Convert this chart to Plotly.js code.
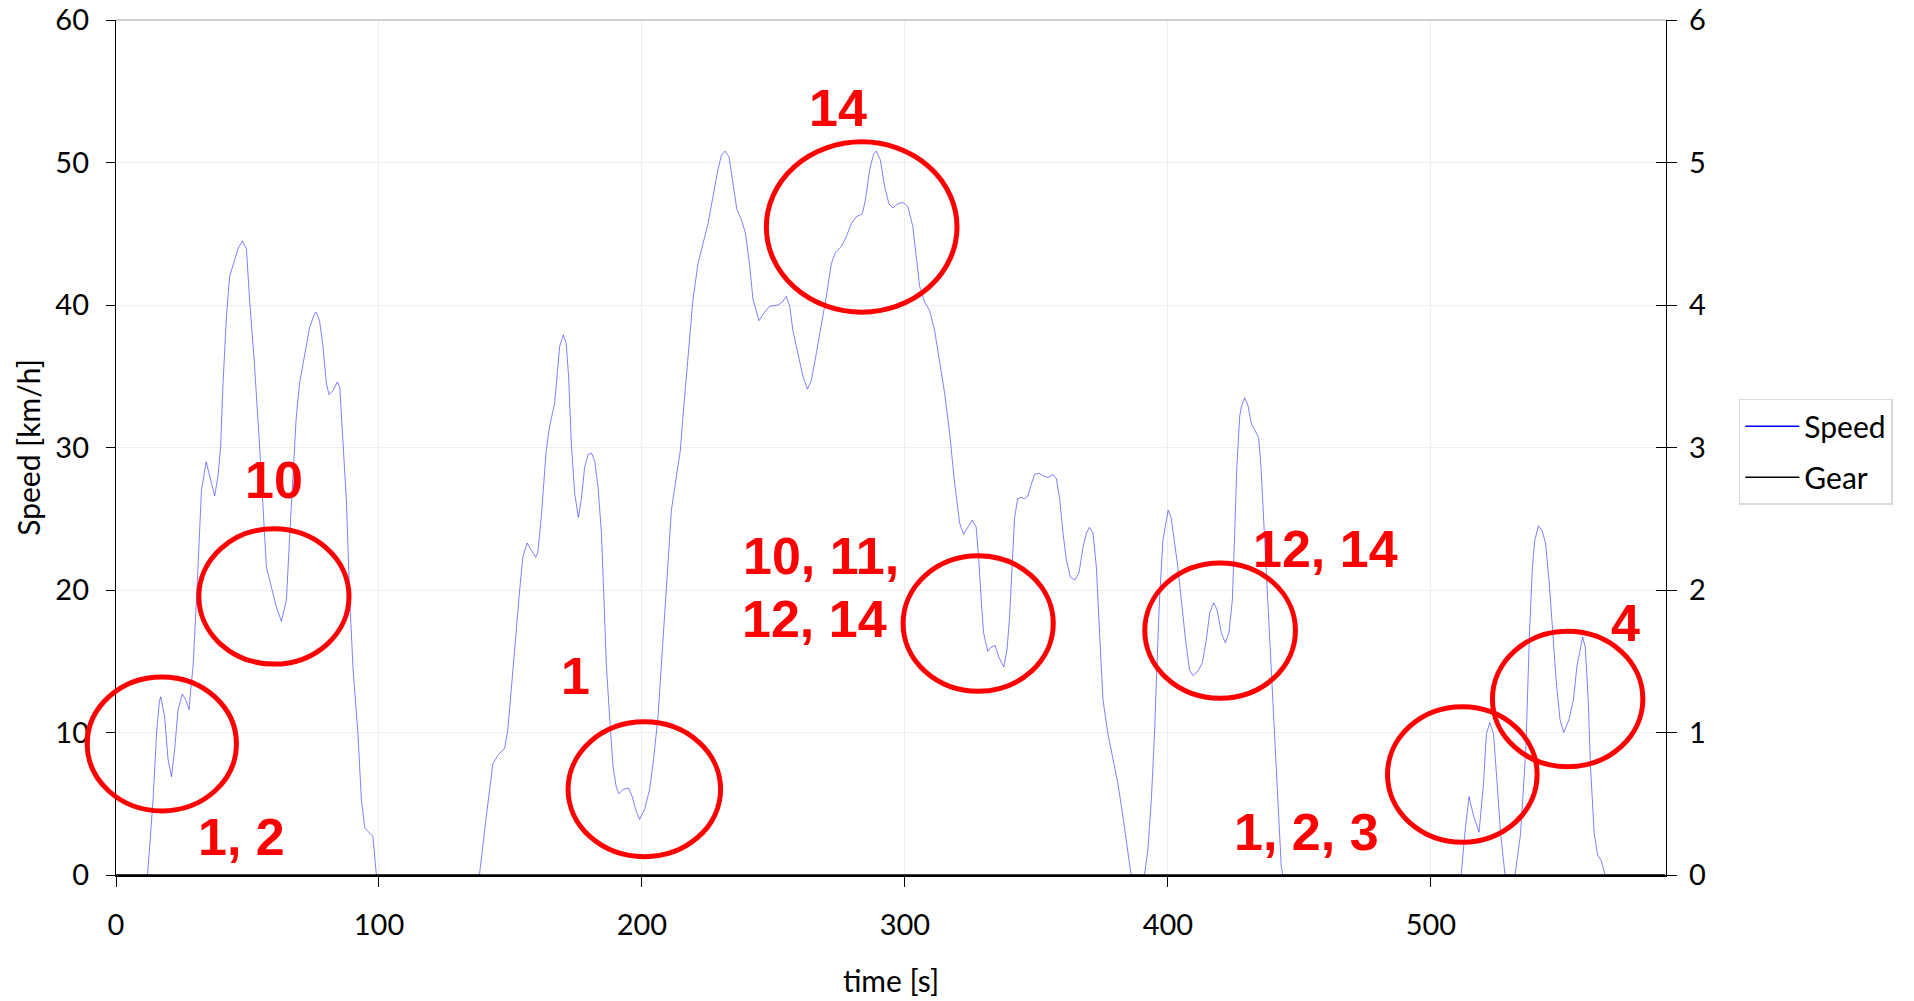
<!DOCTYPE html>
<html><head><meta charset="utf-8">
<script src="https://cdn.plot.ly/plotly-3.0.1.min.js"></script>
<style>html,body{margin:0;padding:0;background:#fff}#chart{width:1914px;height:1001px}</style>
</head><body><div id="chart"></div>
<script>
// ---- axes / ticks ----
const xTicks = [0, 100, 200, 300, 400, 500];
const yTicks = [0, 10, 20, 30, 40, 50, 60];
const y2Ticks = [0, 1, 2, 3, 4, 5, 6];
const X_MAX = 589.4;

// ---- Speed [km/h] vs time [s], by driving segment ----
const run1Time = [0,12,14.1,15.4,16.5,17.0,18.5,19.8,21.1,22.3,23.6,25.2,26.5,27.8,28.3,29.3,30.6,31.6,32.5,34.3,35.6,37.5,38.8,39.8,40.7,42.0,43.2,44.6,46.5,48.1,49.6,50.8,52.7,54.6,55.9,57.2,59.1,61.0,62.9,64.8,66.1,67.4,68.5,69.8,71.1,72.3,73.6,75.5,76.1,77.4,78.7,80.0,81.0,82.5,84.2,85.1,86.4,87.6,88.9,90.1,92.0,93.3,94.6,96.5,97.7,99.0];
const run1Speed = [0,0,5.3,9.9,12.2,12.5,11.1,8.1,6.9,8.8,11.6,12.7,12.3,11.6,12.8,14.6,19.3,24.0,27.0,29.0,28.0,26.6,28.0,30.1,34.5,39.2,42.0,42.9,44.0,44.5,43.9,40.4,35.7,30.1,25.4,21.6,20.2,18.8,17.8,19.3,24.0,28.6,32.0,34.5,35.9,37.1,38.4,39.4,39.5,38.9,37.1,34.5,33.7,34.0,34.6,34.2,30.1,26.3,19.3,14.6,9.9,5.3,3.3,2.9,2.7,0];

const run2Time = [138.2,140.8,143.3,145.2,147.8,149.0,150.9,153.5,154.7,156.3,157.9,159.6,160.4,161.7,163.6,164.9,166.8,168.7,170.1,171.2,172.1,173.2,174.4,175.8,176.9,178.2,179.5,180.8,182.0,183.3,184.6,185.4,186.5,187.7,189.0,190.2,191.2,192.8,194.9,196.3,197.6,199.1,201.0,202.9,204.4,206.1,207.3,208.6,209.9,211.2,213.1,214.6,215.6,217.5,219.4,221.3,223.2,225.1,227.0,228.9,230.2,231.6,233.1,234.6,236.1,237.8,239.4,241.0,242.2,244.5,246.6,248.5,251.7,253.4,254.9,256.2,257.4,259.3,261.2,262.9,264.4,266.3,268.2,270.1,272.0,273.6,275.8,277.7,279.6,281.5,283.8,285.0,286.6,288.1,289.1,290.6,292.3,293.9,295.4,297.3,299.2,301.1,303.0,304.3,305.6,307.5,309.4,311.3,313.2,315.1,317.0,318.9,320.8,322.3,323.9,325.6,327.1,328.1,329.0,329.9,331.5,332.8,334.3,335.7,337.6,338.8,339.8,340.8,341.7,342.9,344.2,345.5,346.8,348.0,349.3,351.0,352.5,354.4,356.3,357.6,358.9,360.1,361.4,362.9,364.6,366.2,367.7,369.0,370.2,371.5,372.8,374.0,375.3,377.2,379.1,381.0,382.9,385.4,386.0];
const run2Speed = [0,4.1,7.8,8.4,8.9,10.2,14.6,20.0,22.3,23.3,22.8,22.3,22.6,25.1,29.8,31.5,33.1,37.1,37.9,37.3,35.0,30.1,26.8,25.1,26.3,28.6,29.5,29.6,29.1,27.2,24.0,20.5,14.6,11.1,7.6,6.2,5.7,6.0,6.1,5.5,4.6,3.9,4.6,6.0,8.1,11.1,14.6,18.8,22.3,25.6,28.0,29.8,32.2,36.1,40.4,42.9,44.2,45.7,47.6,49.5,50.5,50.8,50.4,48.5,46.7,46.0,45.0,42.7,40.4,38.9,39.5,39.9,40.0,40.2,40.6,39.9,38.2,36.6,35.0,34.1,34.7,36.6,38.5,40.6,42.9,43.7,44.1,44.8,45.7,46.2,46.4,47.4,49.5,50.6,50.8,50.2,48.3,47.1,46.8,47.1,47.2,46.9,45.5,43.4,41.3,40.2,39.6,38.2,36.1,33.8,31.0,27.5,24.7,23.9,24.4,24.9,24.4,22.1,19.3,17.0,15.7,16.0,16.1,15.3,14.6,15.8,18.1,21.6,25.1,26.4,26.5,26.4,26.6,27.4,28.1,28.2,28.0,27.9,28.1,27.8,26.3,24.0,22.1,20.9,20.7,21.2,23.0,24.0,24.4,24.0,21.6,17.0,12.3,9.9,8.1,6.4,4.1,0.6,0];

const run3Time = [391.1,392.4,393.7,394.9,395.8,396.8,398.1,400.1,401.2,402.5,403.8,405.1,406.7,408.2,409.5,411.4,413.1,414.6,415.9,417.4,418.7,420.3,421.8,423.2,424.5,425.4,426.2,427.3,428.0,429.2,430.5,431.7,433.3,434.5,435.4,436.7,438.0,439.2,440.5,441.8,443.1,443.7];
const run3Speed = [0,1.8,5.3,9.9,14.6,19.3,23.5,25.6,25.1,23.5,21.6,19.3,16.5,14.4,14.0,14.3,14.9,16.5,18.4,19.1,18.6,17.0,16.3,17.0,19.3,24.0,28.6,32.2,32.9,33.5,32.9,31.7,31.1,30.7,28.6,24.0,19.3,14.6,9.9,5.3,0.6,0];

const run4Time = [511.5,512.9,514.5,516.3,518.3,520.0,521.1,522.4,523.8,525.2,526.5,528.2,532.0,534.1,536.1,537.5,538.6,539.5,540.9,542.2,543.6,545.0,546.3,547.7,549.1,550.5,552.5,554.2,555.5,557.7,558.7,559.8,560.7,562.1,563.4,564.8,566.2,589.0];
const run4Speed = [0,2.9,5.5,4.1,3.0,6.4,9.9,10.7,9.9,6.4,2.9,0,0,2.9,8.8,17.0,21.6,23.5,24.5,24.2,23.3,20.5,17.0,13.5,10.9,10.0,10.9,12.3,14.6,16.7,16.0,12.3,7.6,2.9,1.4,1.0,0,0];

// ---- Gear (secondary axis), lies on the zero line ----
const gearTime = [0, 589.0];
const gearValue = [0, 0];

const speedTime = run1Time.concat(run2Time, run3Time, run4Time);
const speedKmh = run1Speed.concat(run2Speed, run3Speed, run4Speed);

const FONT = "Lato, 'Open Sans', sans-serif";
const RED = '#ff0000';
const TICK_SIZE = 29;
const TEXT_SIZE = 30;

const traces = [
  {x: speedTime, y: speedKmh, type: 'scatter', mode: 'lines', name: 'Speed',
   legendgroup: 'speed', showlegend: false,
   line: {color: '#0000ff', width: 0.5}, hoverinfo: 'skip'},
  {x: [null], y: [null], type: 'scatter', mode: 'lines', name: 'Speed',
   legendgroup: 'speed', line: {color: '#0000ff', width: 1.3}},
  {x: gearTime, y: gearValue, type: 'scatter', mode: 'lines', name: 'Gear',
   legendgroup: 'gear', yaxis: 'y2', line: {color: '#000000', width: 1.3}},
  {x: [null], y: [null], yaxis: 'y3', type: 'scatter', mode: 'lines', showlegend: false, hoverinfo: 'skip'}
];

function ell(t0, t1, v0, v1) {
  return {type: 'circle', xref: 'paper', yref: 'y',
          x0: t0 / X_MAX, x1: t1 / X_MAX, y0: v0, y1: v1,
          line: {color: RED, width: 5}, layer: 'above'};
}
function lbl(text, t, v) {
  return {text: '<b>' + text + '</b>', x: t, y: v, xref: 'x', yref: 'y',
          xanchor: 'center', yanchor: 'middle', showarrow: false,
          font: {family: "'Liberation Sans', Arial, sans-serif", size: 52, color: RED}};
}

const layout = {
  width: 1914, height: 1001,
  margin: {l: 116, r: 248, t: 20, b: 126, pad: 0},
  paper_bgcolor: '#ffffff', plot_bgcolor: '#ffffff',
  font: {family: FONT, size: TEXT_SIZE, color: '#000000'},
  showlegend: true,
  legend: {x: 1.047, y: 0.557, xanchor: 'left', yanchor: 'top',
           bordercolor: '#d9d9d9', borderwidth: 1.5, bgcolor: '#ffffff',
           itemwidth: 54,
           font: {family: FONT, size: TEXT_SIZE, color: '#000'}, tracegroupgap: 9},
  xaxis: {range: [0, X_MAX], tickvals: xTicks, ticktext: xTicks.map(String),
          showgrid: true, gridcolor: '#eeeeee', gridwidth: 1,
          showline: true, linecolor: '#000', linewidth: 1.5,
          ticks: 'outside', ticklen: 10, tickcolor: '#000', tickwidth: 1,
          ticklabelstandoff: 14, zeroline: false,
          tickfont: {family: FONT, size: TICK_SIZE, color: '#000'},
          title: {text: 'time [s]', font: {family: FONT, size: TEXT_SIZE, color: '#000'}, standoff: 30}},
  yaxis: {range: [0, 60], tickvals: yTicks, ticktext: yTicks.map(String),
          showgrid: true, gridcolor: '#eeeeee', gridwidth: 1,
          showline: true, linecolor: '#000', linewidth: 1.2,
          ticks: 'outside', ticklen: 9, tickcolor: '#000', tickwidth: 1,
          ticklabelstandoff: 11, zeroline: false,
          tickfont: {family: FONT, size: TICK_SIZE, color: '#000'},
          title: {text: 'Speed [km/h]', font: {family: FONT, size: TEXT_SIZE, color: '#000'}, standoff: 5}},
  yaxis2: {range: [0, 6], tickvals: y2Ticks, ticktext: y2Ticks.map(String),
           overlaying: 'y', side: 'right', showgrid: false,
           showline: true, linecolor: '#000', linewidth: 1.2,
           ticks: 'outside', ticklen: 10, tickcolor: '#000', tickwidth: 1,
           ticklabelstandoff: 6, zeroline: false,
           tickfont: {family: FONT, size: TICK_SIZE, color: '#000'}},
  yaxis3: {range: [0, 6], tickvals: y2Ticks, overlaying: 'y', side: 'right',
           showgrid: false, showline: false, showticklabels: false, zeroline: false,
           ticks: 'inside', ticklen: 10, tickcolor: '#000', tickwidth: 1},
  shapes: [
    {type: 'line', xref: 'paper', yref: 'paper', x0: 0, x1: 1, y0: 1, y1: 1,
     line: {color: '#bfbfbf', width: 1.5}},
    ell(-10.95, 45.8, 4.5, 13.9),
    ell(31.5, 88.6, 14.8, 24.3),
    ell(171.9, 229.9, 1.28, 10.75),
    ell(247.3, 319.8, 39.5, 51.45),
    ell(299.3, 356.4, 12.9, 22.4),
    ell(391.2, 448.5, 12.4, 21.9),
    ell(483.5, 540.4, 2.3, 11.8),
    ell(523.4, 580.6, 7.6, 17.1)
  ],
  annotations: [
    lbl('10', 59.9, 27.7),
    lbl('1, 2', 47.7, 2.7),
    lbl('14', 274.5, 53.8),
    lbl('1', 174.6, 14.0),
    lbl('10, 11,', 267.9, 22.4),
    lbl('12, 14', 265.7, 17.95),
    lbl('12, 14', 459.9, 22.9),
    lbl('1, 2, 3', 452.6, 3.0),
    lbl('4', 574.0, 17.7)
  ],
  hovermode: false
};

Plotly.newPlot('chart', traces, layout, {displayModeBar: false, staticPlot: true});
</script>
</body></html>
